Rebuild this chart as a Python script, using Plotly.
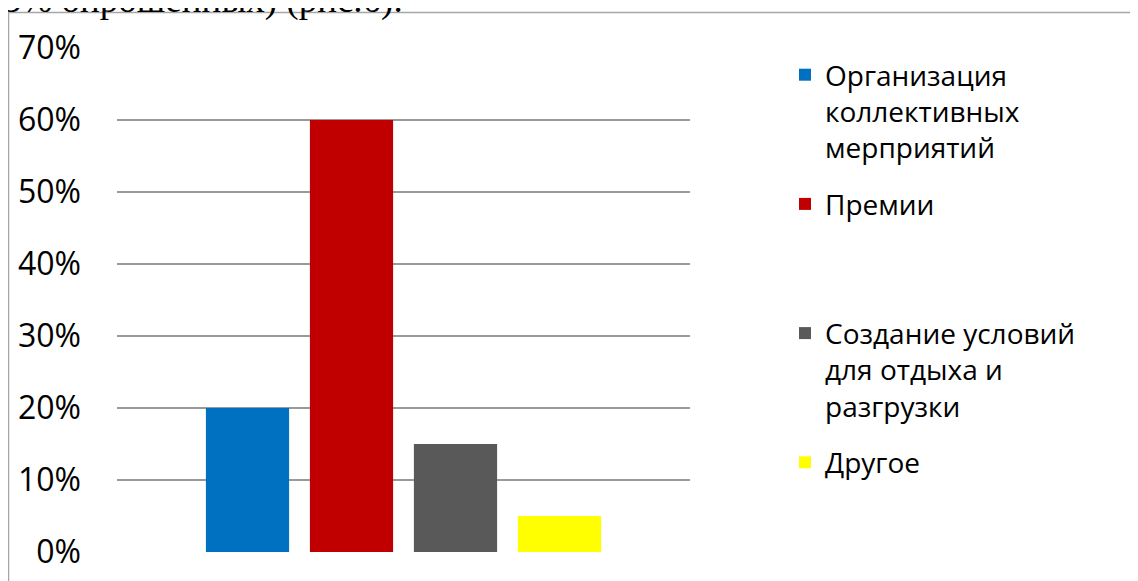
import plotly.graph_objects as go

categories = [""]
series_names = [
    "Организация<br>коллективных<br>мерприятий",
    "Премии<br> <br> ",
    "Создание условий<br>для отдыха и<br>разгрузки",
    "Другое",
]
series_values = [0.20, 0.60, 0.15, 0.05]
series_colors = ["#0070C0", "#C00000", "#595959", "#FFFF00"]
tick_values = [0, 0.1, 0.2, 0.3, 0.4, 0.5, 0.6, 0.7]
tick_labels = ["0%", "10%", "20%", "30%", "40%", "50%", "60%", "70%"]
caption_text = "5% опрошенных) (рис.6)."

# page has an 8px body margin; work in reference-page pixels and shift
OFF = 8
W, H = 1138 - OFF, 581 - OFF
L, R, T, B = 117 - OFF, 690 - OFF, 48 - OFF, 552 - OFF


def px(xref_px):
    return (xref_px - OFF - L) / (R - L)


def py(yref_px):
    return (B - (yref_px - OFF)) / (B - T)


fig = go.Figure()
for i, (name, val, col) in enumerate(zip(series_names, series_values, series_colors)):
    fig.add_trace(go.Bar(x=categories, y=[val], name=name, legendgroup=f"g{i}",
                         marker=dict(color=col, line=dict(width=0))))

fig.update_layout(
    width=W, height=H,
    margin=dict(l=L, r=W - R, t=T, b=H - B, autoexpand=False),
    paper_bgcolor="white", plot_bgcolor="white",
    barmode="group", bargap=0.274, bargroupgap=0.2,
    font=dict(family="Open Sans", color="#000000"),
    showlegend=True,
    legend=dict(
        x=px(785), xanchor="left",
        y=py(50), yanchor="top",
        font=dict(size=28, family="Open Sans", color="#000000"),
        valign="top", bgcolor="rgba(0,0,0,0)", borderwidth=0,
        tracegroupgap=17,
    ),
    xaxis=dict(showticklabels=False, showgrid=False, zeroline=False, showline=False, ticks=""),
    yaxis=dict(
        range=[0, 0.7], tickvals=tick_values, ticktext=tick_labels,
        showgrid=True, gridcolor="#9a9a9a", gridwidth=1.5,
        zeroline=False, showline=False, ticks="",
        ticklabelstandoff=35,
        tickfont=dict(size=32, family="Open Sans", color="#000000"),
    ),
    shapes=[
        dict(type="line", xref="paper", yref="paper",
             x0=px(8.5), x1=px(1150), y0=py(12.5), y1=py(12.5),
             line=dict(color="#a6a6a6", width=1.5)),
        dict(type="line", xref="paper", yref="paper",
             x0=px(8.5), x1=px(8.5), y0=py(12.5), y1=py(600),
             line=dict(color="#a6a6a6", width=1.5)),
    ],
    annotations=[
        dict(text=caption_text, xref="paper", yref="paper",
             x=px(1), xanchor="left",
             y=py(23), yanchor="bottom",
             showarrow=False,
             font=dict(size=37, family="Liberation Serif", color="#000000")),
    ],
)

fig.write_html("out.html")
